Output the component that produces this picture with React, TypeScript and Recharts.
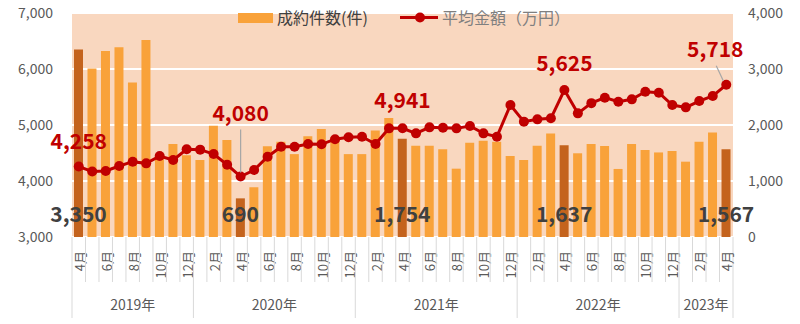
import {
  Bar,
  CartesianGrid,
  Cell,
  ComposedChart,
  LabelList,
  Line,
  XAxis,
  YAxis,
} from "recharts";

// 成約件数 (bars, right axis) and 平均金額 (line, left axis), 2019/4 – 2023/4
const periods = [
  "2019-04", "2019-05", "2019-06", "2019-07", "2019-08", "2019-09", "2019-10", "2019-11", "2019-12",
  "2020-01", "2020-02", "2020-03", "2020-04", "2020-05", "2020-06", "2020-07", "2020-08", "2020-09", "2020-10", "2020-11", "2020-12",
  "2021-01", "2021-02", "2021-03", "2021-04", "2021-05", "2021-06", "2021-07", "2021-08", "2021-09", "2021-10", "2021-11", "2021-12",
  "2022-01", "2022-02", "2022-03", "2022-04", "2022-05", "2022-06", "2022-07", "2022-08", "2022-09", "2022-10", "2022-11", "2022-12",
  "2023-01", "2023-02", "2023-03", "2023-04",
];

const counts = [
  3350, 3010, 3320, 3390, 2760, 3520, 1430, 1660, 1460,
  1375, 1985, 1730, 690, 890, 1620, 1700, 1480, 1800, 1930, 1780, 1480,
  1480, 1900, 2125, 1754, 1630, 1630, 1565, 1220, 1685, 1720, 1700, 1445,
  1375, 1630, 1850, 1637, 1495, 1660, 1625, 1215, 1660, 1555, 1510, 1535,
  1345, 1700, 1865, 1567,
];

const prices = [
  4258, 4170, 4180, 4268, 4345, 4315, 4446, 4375, 4566,
  4560, 4482, 4290, 4080, 4196, 4434, 4613, 4613, 4661, 4655, 4747, 4780,
  4791, 4661, 4940, 4941, 4851, 4958, 4952, 4940, 4982, 4851, 4791, 5357,
  5060, 5101, 5119, 5625, 5208, 5390, 5488, 5416, 5458, 5595, 5577, 5357,
  5315, 5428, 5518, 5718,
];

const leftTicks = [3000, 4000, 5000, 6000, 7000];
const rightTicks = [0, 1000, 2000, 3000, 4000];

const W = 800;
const H = 324;
const LEFT_W = 72;
const RIGHT_W = 67;
const TOP = 13;
const XAXIS_H = 87;
const BAND = (W - LEFT_W - RIGHT_W) / periods.length;

const FONT = '"Noto Sans CJK JP", "Noto Sans", sans-serif';
const BAR = "#F9A23A";
const BAR_DARK = "#C4631D";
const RED = "#C00000";
const GRAY = "#595959";
const SEP = "#D9D9D9";

const data = periods.map((p, i) => ({ p, count: counts[i], price: prices[i] }));

const monthOf = (i: number) => Number(periods[i].split("-")[1]);
const yearOf = (i: number) => Number(periods[i].split("-")[0]);
const isHighlight = (i: number) => monthOf(i) === 4;

function MonthTick(props: any) {
  const { x, y, payload } = props;
  const i: number = props.index ?? payload.index;
  const left = x - BAND / 2;
  const yearStart = i === 0 || monthOf(i) === 1;
  const last = i === periods.length - 1;
  let yearLabel = null;
  if (yearStart) {
    const n = periods.filter((_, k) => yearOf(k) === yearOf(i)).length;
    yearLabel = (
      <text x={left + (n * BAND) / 2} y={y + 73} textAnchor="middle" fontSize={14} fill={GRAY} fontFamily={FONT}>
        {yearOf(i)}年
      </text>
    );
  }
  return (
    <g>
      <line x1={left} x2={left} y1={y} y2={y + (yearStart ? 81 : 45)} stroke={SEP} />
      {last && <line x1={left + BAND} x2={left + BAND} y1={y} y2={y + 81} stroke={SEP} />}
      {i % 2 === 0 && (
        <text
          x={x + 6}
          y={y + 14}
          transform={`rotate(-90, ${x + 6}, ${y + 14})`}
          textAnchor="end"
          fontSize={13}
          fill={GRAY}
          fontFamily={FONT}
        >
          {monthOf(i)}月
        </text>
      )}
      {yearLabel}
    </g>
  );
}

function CountLabel(props: any) {
  const { x, y, width, height, index, value } = props;
  if (!isHighlight(index)) return null;
  return (
    <text
      x={x + width / 2}
      y={y + height - 15}
      textAnchor="middle"
      fontSize={21}
      fontWeight="bold"
      fill="#404040"
      fontFamily={FONT}
    >
      {Number(value).toLocaleString("en-US")}
    </text>
  );
}

// label offsets for the highlighted April points: [dx, dy, leader]
const priceLabelPos: Record<number, [number, number, boolean]> = {
  2019: [0, -18, false],
  2020: [0, -56, true],
  2021: [0, -20, false],
  2022: [0, -19, false],
  2023: [-11, -28, true],
};

function PriceLabel(props: any) {
  const { x, y, index, value } = props;
  if (!isHighlight(index)) return null;
  const [dx, dy, leader] = priceLabelPos[yearOf(index)] ?? [0, -18, false];
  return (
    <g>
      {leader && (
        <line
          x1={x + dx + (dx ? 1 : 0)}
          y1={y + dy + 9}
          x2={x - (dx ? 3 : 0)}
          y2={y - 4}
          stroke="#A6A6A6"
          strokeWidth={1.2}
        />
      )}
      <text
        x={x + dx}
        y={y + dy}
        textAnchor="middle"
        fontSize={21}
        fontWeight="bold"
        fill={RED}
        fontFamily={FONT}
      >
        {Number(value).toLocaleString("en-US")}
      </text>
    </g>
  );
}

function LegendOverlay() {
  return (
    <svg width={W} height={30} style={{ position: "absolute", left: 0, top: 0 }}>
      <rect x={238} y={13} width={35} height={10} fill={BAR} />
      <text x={277} y={23.5} fontSize={16} fill="#404040" fontFamily={FONT}>
        成約件数(件)
      </text>
      <line x1={400} x2={438} y1={17.5} y2={17.5} stroke={RED} strokeWidth={3} />
      <circle cx={420} cy={17.5} r={5} fill={RED} />
      <text x={442} y={23.5} fontSize={16} fill="#7F7F7F" fontFamily={FONT}>
        平均金額（万円）
      </text>
    </svg>
  );
}

export default function App() {
  return (
    <div style={{ position: "absolute", left: 0, top: 0, width: W, height: H, background: "#fff" }}>
      <ComposedChart
        width={W}
        height={H}
        data={data}
        margin={{ top: TOP, right: 0, bottom: 0, left: 0 }}
        barCategoryGap={0}
      >
        <CartesianGrid
          yAxisId="left"
          vertical={false}
          fill="#F9D7BF"
          fillOpacity={1}
          stroke="#FFFFFF"
          strokeWidth={2}
        />
        <XAxis
          dataKey="p"
          height={XAXIS_H}
          interval={0}
          tickLine={false}
          axisLine={false}
          tickSize={0}
          tickMargin={0}
          tick={<MonthTick />}
        />
        <YAxis
          yAxisId="left"
          domain={[3000, 7000]}
          ticks={leftTicks}
          width={LEFT_W}
          axisLine={false}
          tickLine={false}
          tickSize={0}
          tickMargin={19}
          tick={{ fontSize: 14, fill: GRAY, fontFamily: FONT }}
          tickFormatter={(v: number) => v.toLocaleString("en-US")}
        />
        <YAxis
          yAxisId="right"
          orientation="right"
          domain={[0, 4000]}
          ticks={rightTicks}
          width={RIGHT_W}
          axisLine={false}
          tickLine={false}
          tickSize={0}
          tickMargin={15}
          tick={{ fontSize: 14, fill: GRAY, fontFamily: FONT, textAnchor: "start" }}
          tickFormatter={(v: number) => v.toLocaleString("en-US")}
        />
        <Bar yAxisId="right" dataKey="count" barSize={9} isAnimationActive={false}>
          {data.map((_, i) => (
            <Cell key={i} fill={isHighlight(i) ? BAR_DARK : BAR} />
          ))}
          <LabelList dataKey="count" content={<CountLabel />} />
        </Bar>
        <Line
          yAxisId="left"
          dataKey="price"
          stroke={RED}
          strokeWidth={3}
          dot={{ r: 5, fill: RED, stroke: RED, strokeWidth: 0 }}
          isAnimationActive={false}
        >
          <LabelList dataKey="price" content={<PriceLabel />} />
        </Line>
      </ComposedChart>
      <LegendOverlay />
    </div>
  );
}
